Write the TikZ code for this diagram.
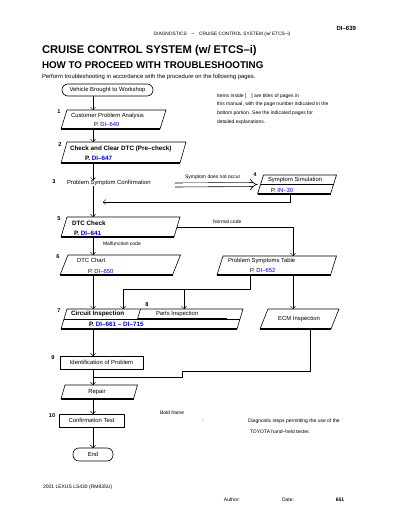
\documentclass[tikz,border=0pt]{standalone}
\usepackage{fontspec}
\setmainfont{Liberation Sans}
\usetikzlibrary{arrows.meta}
\definecolor{refblue}{RGB}{0,0,235}
\newcommand\myfs[1]{\fontsize{#1}{#1}\selectfont}
\newcommand\drawpara[3][]{%
  \draw[bxline,#1] ([xshift=-#3pt]#2.south west) -- ([xshift=#3pt]#2.north west) -- ([xshift=#3pt]#2.north east) -- ([xshift=-#3pt]#2.south east);
  \draw[bxbot,#1] ([xshift=-#3pt]#2.south west) -- ([xshift=-#3pt]#2.south east);}
\begin{document}
\begin{tikzpicture}[x=1pt,y=-1pt,
  every node/.style={inner sep=0pt,outer sep=0pt},
  txt/.style={font=\myfs{5.9}},
  btxt/.style={font=\bfseries\myfs{6.3}},
  lbl/.style={font=\bfseries\myfs{5.6}},
  sml/.style={font=\myfs{5}},
  bxline/.style={line width=0.6pt},
  bxbot/.style={line width=1.3pt},
  flow/.style={line width=0.4pt,-{Straight Barb[length=2.5pt,width=5pt]}},
  conn/.style={line width=0.6pt}]
\fill[white] (0,0) rectangle (400,518);
\useasboundingbox (0,0) rectangle (400,518);

% header
\node[anchor=east,font=\bfseries\myfs{6}] (pgno) at (356,28) {DI–639};
\node[font=\myfs{4.8}] (runhd) at (222,34) {DIAGNOSTICS\quad–\quad CRUISE CONTROL SYSTEM (w/ ETCS–i)};
\node[anchor=base west,font=\bfseries\myfs{11.2}] (title) at (42,54) {CRUISE CONTROL SYSTEM (w/ ETCS–i)};
\node[anchor=base west,font=\bfseries\myfs{9.8}] (subtitle) at (42,68.5) {HOW TO PROCEED WITH TROUBLESHOOTING};
\node[anchor=base west,font=\myfs{5.9}] (intro) at (42,78.5) {Perform troubleshooting in accordance with the procedure on the following pages.};

% note
\node[sml,anchor=west] (n1) at (217,96) {Items inside [\quad] are titles of pages in};
\node[sml,anchor=west] (n2) at (217,104.5) {this manual, with the page number indicated in the};
\node[sml,anchor=west] (n3) at (217,113) {bottom portion. See the indicated pages for};
\node[sml,anchor=west] (n4) at (217,122) {detailed explanations.};

\coordinate (colx) at (93,0);
\coordinate (rcol) at (293,0);

% vehicle
\node[draw,bxline,rounded corners=6pt,minimum width=91pt,minimum height=12pt,txt] (veh) at (107.5,90) {Vehicle Brought to Workshop};

% box 1
\node[minimum width=99pt,minimum height=19pt] (b1) at (113.5,119.5) {};
\drawpara{b1}{3}
\node[lbl] (l1) at (59,112) {1};
\node[txt,anchor=west] (t1) at (71,116) {Customer Problem Analysis};
\node[txt,anchor=west] (r1) at (94,124) {P. \textcolor{refblue}{DI–640}};
\draw[flow] (veh.south -| colx) -- (b1.north -| colx);

% box 2
\node[minimum width=119pt,minimum height=21pt] (b2) at (123.5,152.5) {};
\drawpara{b2}{3}
\node[lbl] (l2) at (60,145) {2};
\node[btxt,anchor=west] (t2) at (70,148.5) {Check and Clear DTC (Pre–check)};
\node[btxt,anchor=west] (r2) at (85,158.5) {P. \textcolor{refblue}{DI–647}};
\draw[flow] (b1.south -| colx) -- (b2.north -| colx);

% row 3
\node[lbl] (l3) at (54,182) {3};
\node[txt,anchor=west] (t3) at (67,183) {Problem Symptom Confirmation};
\draw[flow] (b2.south -| colx) -- (t3.north -| colx);

% box 4
\node[minimum width=73pt,minimum height=19pt] (b4) at (297,184.5) {};
\drawpara{b4}{3}
\draw[bxline] (b4.west) -- (b4.east);
\node[lbl] (l4) at (255,175) {4};
\node[txt,anchor=west] (t4) at (268,179.5) {Symptom Simulation};
\node[txt,anchor=west] (r4) at (271,190) {P. \textcolor{refblue}{IN–30}};
\coordinate (d3) at (175,185);
\draw[double,double distance=3.4pt,line width=0.6pt,-{Implies}] (d3) -- ([xshift=-3pt]b4.west);
\node[sml,anchor=west] (so1) at (185,177) {Symptom does not occur};
\coordinate (j3) at (103,202);
\coordinate (c290) at (290,0);
\draw[flow] (b4.south -| c290) |- (j3);

% box 5
\node[minimum width=113pt,minimum height=20pt] (b5) at (120.5,227) {};
\drawpara{b5}{3}
\node[lbl] (l5) at (59,219) {5};
\node[btxt,anchor=west] (t5) at (72,223) {DTC Check};
\node[btxt,anchor=west] (r5) at (74,233) {P. \textcolor{refblue}{DI–641}};
\draw[flow] (t3.south -| colx) -- (b5.north -| colx);

% box 6
\node[minimum width=112.5pt,minimum height=20pt] (b6l) at (120.25,265) {};
\drawpara{b6l}{4}
\node[lbl] (l6) at (58,257) {6};
\node[txt,anchor=west] (t6l) at (77,260.5) {DTC Chart};
\node[txt,anchor=west] (r6l) at (88,271) {P. \textcolor{refblue}{DI–650}};
\node[minimum width=113.5pt,minimum height=19pt] (b6r) at (276.75,265.5) {};
\drawpara{b6r}{3}
\node[txt,anchor=west] (t6r) at (228,261) {Problem Symptoms Table};
\node[txt,anchor=west] (r6r) at (250,270.5) {P. \textcolor{refblue}{DI–652}};
\draw[flow] (b5.south -| colx) -- (b6l.north -| colx);
\node[sml,anchor=west] (mc) at (103,244) {Malfunction code};
\draw[flow] (b5.east) -| (b6r.north -| rcol);
\node[sml,anchor=west] (nc) at (213,222) {Normal code};

% row 7
\node[minimum width=176pt,minimum height=20pt] (b7) at (152,319) {};
\drawpara{b7}{3}
\draw[bxline] (b7.west) -- (b7.east);
\draw[bxline] (140.5,309) -- (137.5,319);
\draw[bxbot] (137.5,319) -- (227,319);
\node[lbl] (l7) at (59,311) {7};
\node[lbl] (l8) at (147,305) {8};
\node[btxt,anchor=west] (t7) at (71,314) {Circuit Inspection};
\node[txt,anchor=west] (t8) at (156,314) {Parts Inspection};
\node[btxt,anchor=west] (r7) at (89,324) {P. \textcolor{refblue}{DI–661 – DI–715}};
\coordinate (c250) at (250,0);
\coordinate (jn) at (123,289);
\coordinate (jn2) at (184,289);
\draw[conn] (b6r.south -| c250) |- (jn);
\draw[flow] (jn) -- (jn |- b7.north);
\draw[flow] (jn2) -- (jn2 |- b7.north);
\draw[flow] (b6l.south -| colx) -- (b7.north -| colx);

% right box
\node[minimum width=71pt,minimum height=20pt] (rb) at (299.5,319) {};
\drawpara{rb}{4}
\node[txt] (trb) at (299,318.5) {ECM Inspection};
\draw[flow] (b6r.south -| rcol) -- (rb.north -| rcol);
\coordinate (c310) at (310,0);
\coordinate (k1) at (182,371);
\coordinate (k2) at (93,377);
\draw[conn] (rb.south -| c310) |- (k1) |- (k2);

% box 9
\node[draw,bxline,minimum width=83pt,minimum height=13pt,txt] (b9) at (101.5,362.5) {Identification of Problem};
\node[lbl] (l9) at (53,358) {9};
\draw[flow] (b7.south -| colx) -- (b9.north -| colx);

% repair
\node[minimum width=72.5pt,minimum height=14pt] (rep) at (99.25,392) {};
\drawpara{rep}{2}
\node[txt] (trep) at (97,391.5) {Repair};
\draw[flow] (b9.south -| colx) -- (rep.north -| colx);

% box 10
\node[draw,line width=1pt,minimum width=65pt,minimum height=13pt,txt] (b10) at (91.5,420.5) {Confirmation Test};
\node[lbl] (l10) at (52,416) {10};
\draw[flow] (rep.south -| colx) -- (b10.north -| colx);

% end
\node[draw,bxline,rounded corners=6pt,minimum width=40pt,minimum height=13pt,txt] (endn) at (93,454.5) {End};
\draw[flow] (b10.south -| colx) -- (endn.north -| colx);

% legend
\node[sml,anchor=west] (lg1) at (160,413) {Bold frame};
\node[sml] (lg2) at (203,421) {:};
\node[sml,anchor=west] (lg3) at (248,421) {Diagnostic steps permitting the use of the};
\node[sml,anchor=west] (lg4) at (250,432) {TOYOTA hand–held tester.};

% footer
\node[sml,anchor=west] (ft) at (43,487) {2001 LEXUS LS430 (RM835U)};
\node[sml] (au) at (232,500) {Author:};
\node[sml] (dt) at (288,500) {Date:};
\node[font=\bfseries\myfs{5}] (pg) at (340,500) {651};
\end{tikzpicture}
\end{document}
